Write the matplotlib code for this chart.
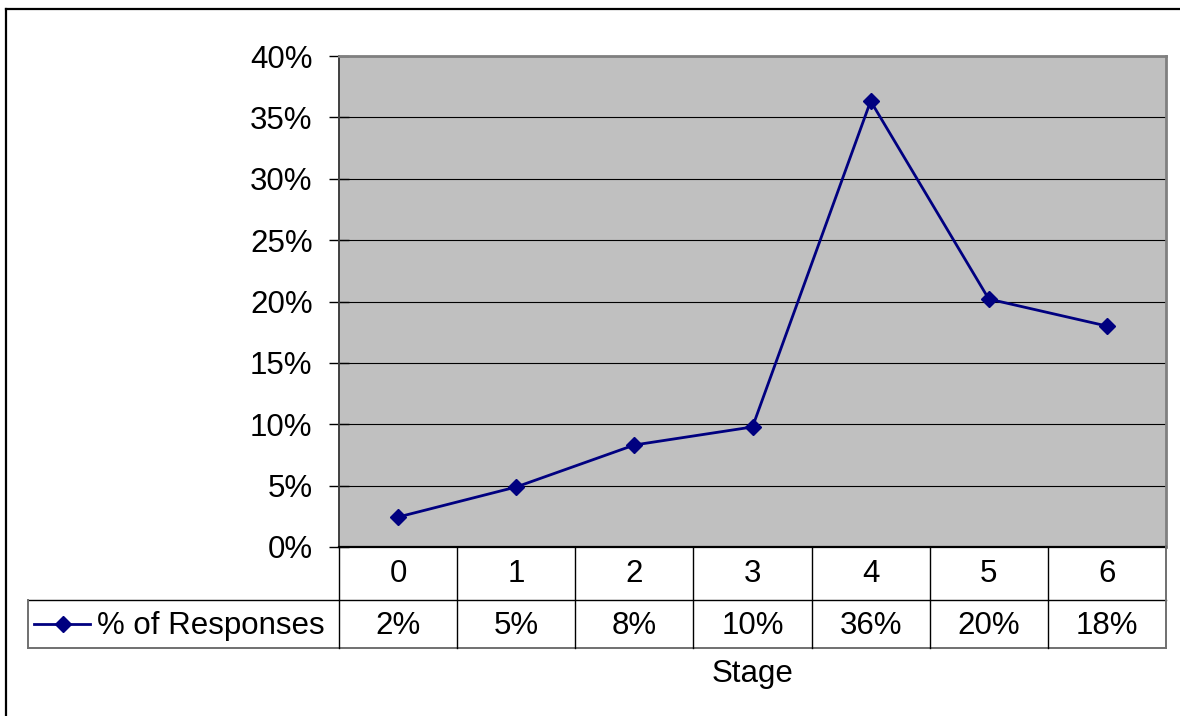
import matplotlib
matplotlib.use("Agg")
import matplotlib.pyplot as plt
from matplotlib.lines import Line2D
from matplotlib.ticker import FuncFormatter

plt.rcParams['font.family'] = ['Liberation Sans', 'DejaVu Sans']

# survey data
stages = ["0", "1", "2", "3", "4", "5", "6"]
responses = [2.44, 4.89, 8.31, 9.78, 36.33, 20.2, 18.0]   # percent of responses
series_name = "% of Responses"

W, H = 1180, 716
FS = 22.5
fig = plt.figure(figsize=(W / 100, H / 100), dpi=100)

def fx(px):
    return px / W

def fy(py):
    return 1 - py / H

# plot area in pixels
L, R, T, B = 339, 1166, 56, 547
ax = fig.add_axes([fx(L), fy(B), fx(R - L), fy(T) - fy(B)])
ax.set_facecolor('#C0C0C0')

xs = list(range(len(stages)))
navy = '#000080'
ax.plot(xs, responses, color=navy, lw=2.0, marker='D', ms=8.5,
        mfc=navy, mec=navy, zorder=3, clip_on=False)

ax.set_xlim(-0.5, len(stages) - 0.5)
ax.set_ylim(0, 40)
ax.set_yticks(range(0, 41, 5))
ax.yaxis.set_major_formatter(FuncFormatter(lambda v, p: f"{v:.0f}%"))
ax.tick_params(axis='y', direction='inout', length=14, width=1.0, pad=12,
               labelsize=FS, colors='black')
ax.set_xticks([])
ax.grid(axis='y', color='black', lw=0.8)
ax.set_axisbelow(True)

for side in ['top', 'right']:
    ax.spines[side].set_color('#808080')
    ax.spines[side].set_linewidth(2)
ax.spines['left'].set_color('#404040')
ax.spines['left'].set_linewidth(1.4)
ax.spines['bottom'].set_color('black')
ax.spines['bottom'].set_linewidth(1.6)

# data table under the plot
row1_top, row1_bot, row2_bot = 547, 600, 648
tab_left = 28
col_w = (R - L) / len(stages)

def hline(y, x0, x1, color='black', lw=1.0):
    fig.add_artist(Line2D([fx(x0), fx(x1)], [fy(y), fy(y)], color=color, lw=lw,
                          transform=fig.transFigure))

def vline(x, y0, y1, color='black', lw=1.0):
    fig.add_artist(Line2D([fx(x), fx(x)], [fy(y0), fy(y1)], color=color, lw=lw,
                          transform=fig.transFigure))

hline(row1_bot, tab_left, R)
hline(row2_bot, tab_left, R, color='#707070', lw=1.4)
vline(tab_left, row1_bot, row2_bot, color='#707070', lw=1.4)
vline(R, row1_top, row2_bot, color='#707070', lw=1.4)
for i in range(len(stages)):
    vline(L + i * col_w, row1_top, row2_bot, lw=1.0)

for i, (s, v) in enumerate(zip(stages, responses)):
    cx = L + (i + 0.5) * col_w
    fig.text(fx(cx), fy(574), s, ha='center', va='center', fontsize=FS)
    fig.text(fx(cx), fy(626), f"{v:.0f}%", ha='center', va='center', fontsize=FS)

# legend key inside the table
ky = 624
fig.add_artist(Line2D([fx(34), fx(90)], [fy(ky), fy(ky)], color=navy, lw=2.0,
                      transform=fig.transFigure))
fig.add_artist(Line2D([fx(63)], [fy(ky)], color=navy, marker='D', ms=8.5,
                      mfc=navy, mec=navy, transform=fig.transFigure))
fig.text(fx(97), fy(626), series_name, ha='left', va='center', fontsize=FS)

fig.text(fx((L + R) / 2), fy(674), "Stage", ha='center', va='center', fontsize=FS)

# chart frame
hline(9, 6, W + 10, lw=1.6)
vline(6, 9, H + 10, lw=1.6)

fig.savefig("out.png", dpi=100)
